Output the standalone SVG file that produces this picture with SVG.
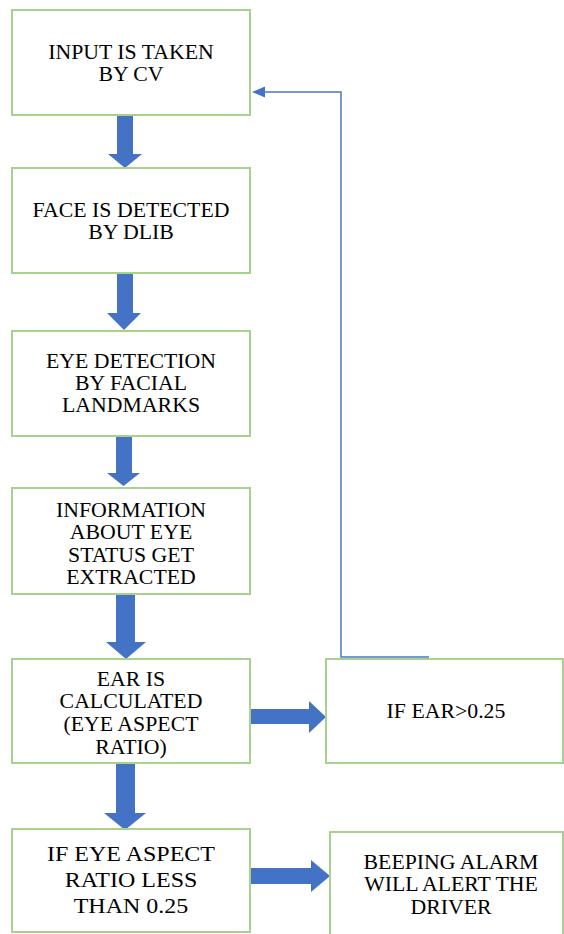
<svg xmlns="http://www.w3.org/2000/svg" width="564" height="934" viewBox="0 0 564 934">
<rect width="564" height="934" fill="#fff"/>
<g id="connectors" fill="#4472c4">
<path d="M429,657 H341 V92 H262" fill="none" stroke="#4a78c8" stroke-width="1.5"/>
<polygon points="252,92 265,86.5 265,97.5"/>
<polygon points="117,116 133,116 133,154 142,154 125,168 108,154 117,154"/>
<polygon points="117,273 133,273 133,313 141,313 124,330 107,313 117,313"/>
<polygon points="116,436 132,436 132,473 140,473 123.5,486 107,473 116,473"/>
<polygon points="116,594 135,594 135,642 146,642 126,659 106,642 116,642"/>
<polygon points="116,763 135,763 135,813 146,813 125,830 104,813 116,813"/>
<polygon points="250,709 309,709 309,701 326,717 309,733 309,724 250,724"/>
<polygon points="251,868 311,868 311,860 330,876 311,892 311,884 251,884"/>
</g>
<g id="n1">
<rect x="12" y="10" width="238" height="105" fill="#fff" stroke="#a9d18e" stroke-width="2"/>
<text transform="translate(131 59) scale(0.908 0.8333)" font-family="Liberation Serif" font-size="24" text-anchor="middle">INPUT IS TAKEN</text>
<text transform="translate(131 81) scale(0.908 0.8333)" font-family="Liberation Serif" font-size="24" text-anchor="middle">BY CV</text>
</g>
<g id="n2">
<rect x="12" y="168" width="238" height="105" fill="#fff" stroke="#a9d18e" stroke-width="2"/>
<text transform="translate(131 217) scale(0.908 0.8333)" font-family="Liberation Serif" font-size="24" text-anchor="middle">FACE IS DETECTED</text>
<text transform="translate(131 239) scale(0.908 0.8333)" font-family="Liberation Serif" font-size="24" text-anchor="middle">BY DLIB</text>
</g>
<g id="n3">
<rect x="12" y="331" width="238" height="105" fill="#fff" stroke="#a9d18e" stroke-width="2"/>
<text transform="translate(131 368) scale(0.908 0.8333)" font-family="Liberation Serif" font-size="24" text-anchor="middle">EYE DETECTION</text>
<text transform="translate(131 390) scale(0.908 0.8333)" font-family="Liberation Serif" font-size="24" text-anchor="middle">BY FACIAL</text>
<text transform="translate(131 412) scale(0.908 0.8333)" font-family="Liberation Serif" font-size="24" text-anchor="middle">LANDMARKS</text>
</g>
<g id="n4">
<rect x="12" y="488" width="238" height="106" fill="#fff" stroke="#a9d18e" stroke-width="2"/>
<text transform="translate(131 517) scale(0.908 0.8333)" font-family="Liberation Serif" font-size="24" text-anchor="middle">INFORMATION</text>
<text transform="translate(131 539) scale(0.908 0.8333)" font-family="Liberation Serif" font-size="24" text-anchor="middle">ABOUT EYE</text>
<text transform="translate(131 562) scale(0.908 0.8333)" font-family="Liberation Serif" font-size="24" text-anchor="middle">STATUS GET</text>
<text transform="translate(131 584) scale(0.908 0.8333)" font-family="Liberation Serif" font-size="24" text-anchor="middle">EXTRACTED</text>
</g>
<g id="n5">
<rect x="12" y="659" width="238" height="104" fill="#fff" stroke="#a9d18e" stroke-width="2"/>
<text transform="translate(131 686) scale(0.908 0.8333)" font-family="Liberation Serif" font-size="24" text-anchor="middle">EAR IS</text>
<text transform="translate(131 708) scale(0.908 0.8333)" font-family="Liberation Serif" font-size="24" text-anchor="middle">CALCULATED</text>
<text transform="translate(131 731) scale(0.908 0.8333)" font-family="Liberation Serif" font-size="24" text-anchor="middle">(EYE ASPECT</text>
<text transform="translate(131 754) scale(0.908 0.8333)" font-family="Liberation Serif" font-size="24" text-anchor="middle">RATIO)</text>
</g>
<g id="n6">
<rect x="326" y="659" width="237" height="104" fill="#fff" stroke="#a9d18e" stroke-width="2"/>
<text transform="translate(446 718) scale(0.908 0.8333)" font-family="Liberation Serif" font-size="24" text-anchor="middle">IF EAR&gt;0.25</text>
</g>
<g id="n7">
<rect x="12" y="829" width="238" height="103" fill="#fff" stroke="#a9d18e" stroke-width="2"/>
<text transform="translate(131 861) scale(1 0.9167)" font-family="Liberation Serif" font-size="24" text-anchor="middle">IF EYE ASPECT</text>
<text transform="translate(131 887) scale(1 0.9167)" font-family="Liberation Serif" font-size="24" text-anchor="middle">RATIO LESS</text>
<text transform="translate(131 913) scale(1 0.9167)" font-family="Liberation Serif" font-size="24" text-anchor="middle">THAN 0.25</text>
</g>
<g id="n8">
<rect x="330" y="832" width="233" height="110" fill="#fff" stroke="#a9d18e" stroke-width="2"/>
<text transform="translate(451 869) scale(0.908 0.8333)" font-family="Liberation Serif" font-size="24" text-anchor="middle">BEEPING ALARM</text>
<text transform="translate(451 891) scale(0.908 0.8333)" font-family="Liberation Serif" font-size="24" text-anchor="middle">WILL ALERT THE</text>
<text transform="translate(451 914) scale(0.908 0.8333)" font-family="Liberation Serif" font-size="24" text-anchor="middle">DRIVER</text>
</g>
</svg>
